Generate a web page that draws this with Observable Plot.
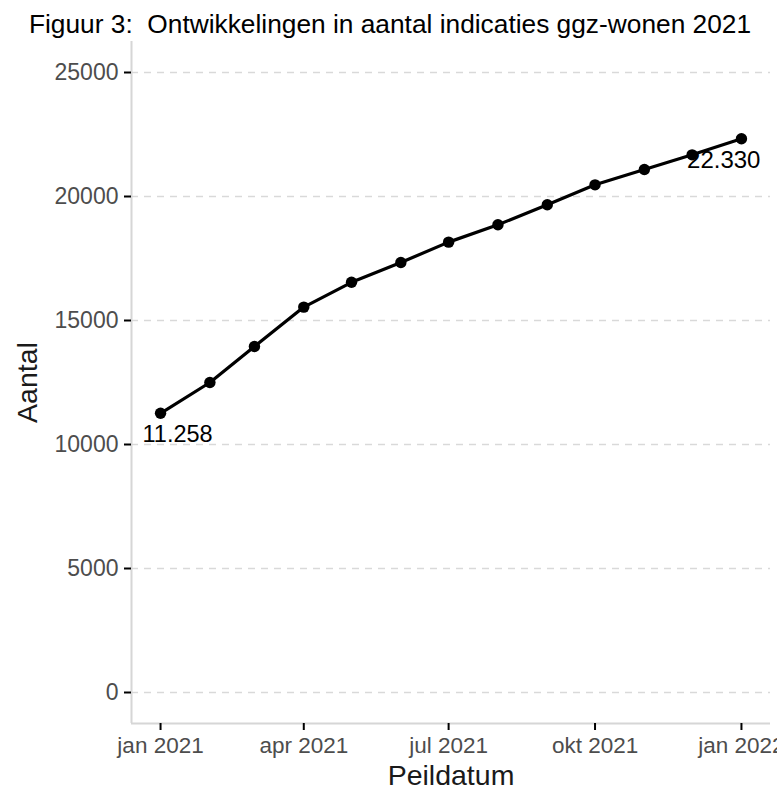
<!DOCTYPE html>
<html>
<head>
<meta charset="utf-8">
<script src="https://cdn.jsdelivr.net/npm/d3@7"></script>
<script src="https://cdn.jsdelivr.net/npm/@observablehq/plot@0.6"></script>
<style>
  html, body { margin: 0; padding: 0; background: white; overflow: hidden; }
  #chart svg { display: block; overflow: hidden; }
</style>
</head>
<body>
<div id="chart"></div>
<script>
// ---- data ----
const title = "Figuur 3:  Ontwikkelingen in aantal indicaties ggz-wonen 2021";
const peildata = ["2021-01-01","2021-02-01","2021-03-01","2021-04-01","2021-05-01","2021-06-01","2021-07-01","2021-08-01","2021-09-01","2021-10-01","2021-11-01","2021-12-01","2022-01-01"];
const aantallen = [11258, 12500, 13950, 15540, 16540, 17340, 18160, 18860, 19670, 20470, 21090, 21680, 22330];
const labelIndex = [0, 12];
const xTickDates = ["2021-01-01","2021-04-01","2021-07-01","2021-10-01","2022-01-01"];
const xTickLabels = ["jan 2021","apr 2021","jul 2021","okt 2021","jan 2022"];
const yTicks = [0, 5000, 10000, 15000, 20000, 25000];
const xTitle = "Peildatum";
const yTitle = "Aantal";

// ---- build ----
const data = peildata.map((d, i) => ({date: new Date(d), value: aantallen[i]}));
const nl = d3.formatLocale({decimal: ",", thousands: ".", grouping: [3], currency: ["€", ""]});
const fmt = nl.format(",");
const labelData = labelIndex.map(i => ({...data[i], text: fmt(data[i].value), first: i === 0}));
const xTicks = xTickDates.map(d => new Date(d));
const tickLabel = new Map(xTicks.map((d, i) => [+d, xTickLabels[i]]));

const day = 864e5;
const x0 = new Date(+data[0].date - 18.25 * day);
const x1 = new Date(+data[data.length - 1].date + 18.25 * day);
const yMin = -1250, yMax = 26250;

const font = "'Liberation Sans', Arial, Helvetica, sans-serif";

const plot = Plot.plot({
  width: 777,
  height: 792,
  marginTop: 41,
  marginBottom: 69,
  marginLeft: 131,
  marginRight: 7,
  style: {fontFamily: font, background: "white", overflow: "hidden"},
  x: {type: "utc", domain: [x0, x1], label: null},
  y: {domain: [yMin, yMax], label: null},
  marks: [
    Plot.ruleY(yTicks, {stroke: "#d9d9d9", strokeWidth: 1.3, strokeDasharray: "7,6"}),
    Plot.ruleX([x0], {stroke: "#d6d6d6", strokeWidth: 2}),
    Plot.ruleY([yMin], {stroke: "#d6d6d6", strokeWidth: 2}),
    Plot.axisY({ticks: yTicks, tickSize: 7, tickPadding: 6, stroke: "black", strokeWidth: 2, fill: "#4d4d4d", fontSize: 23, tickFormat: d => String(d), label: null}),
    Plot.axisX({ticks: xTicks, tickSize: 7, tickPadding: 7, stroke: "black", strokeWidth: 2, fill: "#4d4d4d", fontSize: 22.5, tickFormat: d => tickLabel.get(+d), label: null}),
    Plot.line(data, {x: "date", y: "value", stroke: "black", strokeWidth: 3.2}),
    Plot.dot(data, {x: "date", y: "value", r: 5.7, fill: "black", stroke: "none"}),
    Plot.text(labelData.filter(d => d.first), {x: "date", y: "value", text: "text", textAnchor: "start", dx: -18, dy: 21, fontSize: 23.5, fill: "black"}),
    Plot.text(labelData.filter(d => !d.first), {x: "date", y: "value", text: "text", textAnchor: "end", dx: 19, dy: 22, fontSize: 24, fill: "black"}),
    Plot.text([yTitle], {frameAnchor: "left", rotate: -90, textAnchor: "middle", lineAnchor: "middle", dx: -104, fontSize: 28.5, fill: "#1a1a1a"}),
    Plot.text([xTitle], {frameAnchor: "bottom", textAnchor: "middle", lineAnchor: "middle", dy: 52, fontSize: 28.5, fill: "#1a1a1a"}),
    Plot.text([title], {frameAnchor: "top", textAnchor: "middle", lineAnchor: "middle", dx: -61, dy: -17, fontSize: 26.3, fill: "black"})
  ]
});
document.getElementById("chart").appendChild(plot);
</script>
</body>
</html>
